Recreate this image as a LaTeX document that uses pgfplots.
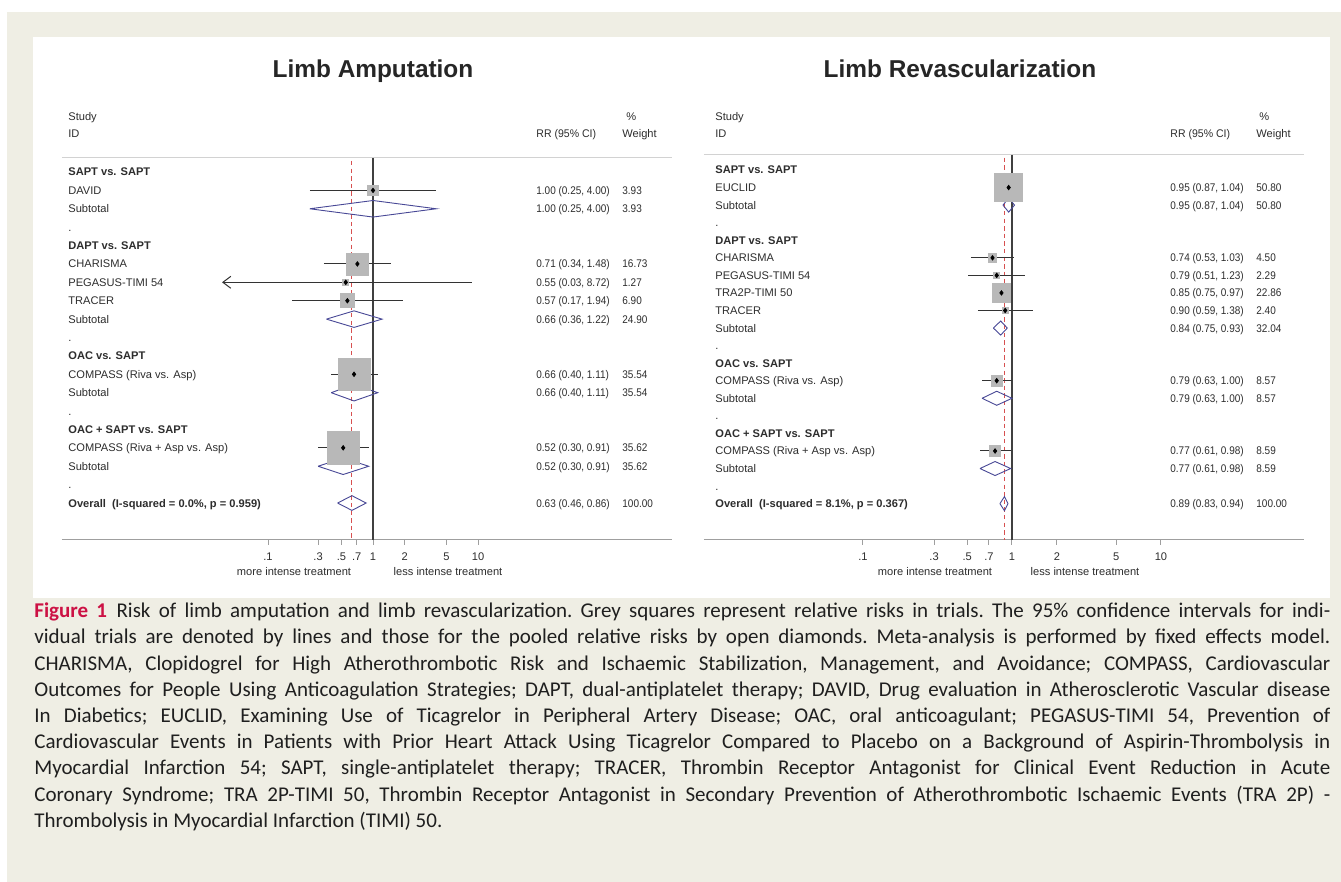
\documentclass[border=0pt]{standalone}
\usepackage{fontspec}
\setmainfont{Liberation Sans}
\newfontfamily\capfont{Carlito}
\usepackage{pgfplots}
\usepackage{pgfplotstable}
\pgfplotsset{compat=1.18}
\usetikzlibrary{arrows.meta}
\definecolor{beige}{RGB}{239,238,228}
\definecolor{sqgray}{RGB}{184,184,184}
\definecolor{dia}{RGB}{72,72,150}
\definecolor{refred}{RGB}{215,80,80}
\definecolor{crimson}{RGB}{204,17,68}
\definecolor{txt}{RGB}{45,45,45}
\newcommand\cf{\fontsize{5.55pt}{6.6pt}\selectfont}
\newcommand\tf{\fontsize{12.2pt}{14pt}\selectfont\bfseries}

\pgfplotstableread{
y rr lo hi w
-1 1.00 0.25 4.00 3.93
-5 0.71 0.34 1.48 16.73
-6 0.55 0.03 8.72 1.27
-7 0.57 0.17 1.94 6.90
-11 0.66 0.40 1.11 35.54
-15 0.52 0.30 0.91 35.62
}\leftstudies
\pgfplotstableread{
y rr lo hi w
-1 0.95 0.87 1.04 50.80
-5 0.74 0.53 1.03 4.50
-6 0.79 0.51 1.23 2.29
-7 0.85 0.75 0.97 22.86
-8 0.90 0.59 1.38 2.40
-12 0.79 0.63 1.00 8.57
-16 0.77 0.61 0.98 8.59
}\rightstudies

\tikzset{
  ci/.style={draw=black!80, line width=0.5pt},
  dmd/.style={draw=dia, line width=0.45pt},
  one/.style={draw=black!75, line width=0.55pt},
  pooled/.style={draw=refred, line width=0.45pt, dash pattern=on 2.2pt off 1.6pt},
}

\newcommand\Lrow[3]{\node[anchor=base west, inner sep=0pt, font=\cf#3, text=txt] at (68,{176+18.39*#1}) {#2};}
\newcommand\Lval[3]{\node[anchor=base west, inner sep=0pt, font=\cf, text=txt] at (536,{176+18.39*#1}) {\scalebox{0.9}[1]{#2}};
  \node[anchor=base west, inner sep=0pt, font=\cf, text=txt] at (622,{176+18.39*#1}) {\scalebox{0.9}[1]{#3}};}
\newcommand\Rrow[3]{\node[anchor=base west, inner sep=0pt, font=\cf#3, text=txt] at (715,{174+17.56*#1}) {#2};}
\newcommand\Rval[3]{\node[anchor=base west, inner sep=0pt, font=\cf, text=txt] at (1170,{174+17.56*#1}) {\scalebox{0.9}[1]{#2}};
  \node[anchor=base west, inner sep=0pt, font=\cf, text=txt] at (1256,{174+17.56*#1}) {\scalebox{0.9}[1]{#3}};}

\begin{document}
\begin{tikzpicture}
\begin{scope}[x=0.5pt, y=-0.5pt]
\fill[white] (0,0) rectangle (1341,882);
\fill[beige] (7,12) rectangle (1341,882);
\fill[white] (33,37) rectangle (1330,598);
% titles
\node[anchor=base, inner sep=0pt, font=\tf, text=black!85] at (373,78) {Limb Amputation};
\node[anchor=base, inner sep=0pt, font=\tf, text=black!85] at (960,78) {Limb Revascularization};
% left headers
\node[anchor=base west, inner sep=0pt, font=\cf, text=txt] at (68,121) {Study};
\node[anchor=base west, inner sep=0pt, font=\cf, text=txt] at (68,138) {ID};
\node[anchor=base west, inner sep=0pt, font=\cf, text=txt] at (626,121) {\%};
\node[anchor=base west, inner sep=0pt, font=\cf, text=txt] at (536,138) {\scalebox{0.95}[1]{RR (95\% CI)}};
\node[anchor=base west, inner sep=0pt, font=\cf, text=txt] at (622,138) {Weight};
% left rows
\Lrow{0}{SAPT vs. SAPT}{\bfseries}
\Lrow{1}{DAVID}{}\Lval{1}{1.00 (0.25, 4.00)}{3.93}
\Lrow{2}{Subtotal}{}\Lval{2}{1.00 (0.25, 4.00)}{3.93}
\Lrow{3}{.}{}
\Lrow{4}{DAPT vs. SAPT}{\bfseries}
\Lrow{5}{CHARISMA}{}\Lval{5}{0.71 (0.34, 1.48)}{16.73}
\Lrow{6}{PEGASUS-TIMI 54}{}\Lval{6}{0.55 (0.03, 8.72)}{1.27}
\Lrow{7}{TRACER}{}\Lval{7}{0.57 (0.17, 1.94)}{6.90}
\Lrow{8}{Subtotal}{}\Lval{8}{0.66 (0.36, 1.22)}{24.90}
\Lrow{9}{.}{}
\Lrow{10}{OAC vs. SAPT}{\bfseries}
\Lrow{11}{COMPASS (Riva vs. Asp)}{}\Lval{11}{0.66 (0.40, 1.11)}{35.54}
\Lrow{12}{Subtotal}{}\Lval{12}{0.66 (0.40, 1.11)}{35.54}
\Lrow{13}{.}{}
\Lrow{14}{OAC + SAPT vs. SAPT}{\bfseries}
\Lrow{15}{COMPASS (Riva + Asp vs. Asp)}{}\Lval{15}{0.52 (0.30, 0.91)}{35.62}
\Lrow{16}{Subtotal}{}\Lval{16}{0.52 (0.30, 0.91)}{35.62}
\Lrow{17}{.}{}
\Lrow{18}{Overall\ \ (I-squared = 0.0\%, p = 0.959)}{\bfseries}\Lval{18}{0.63 (0.46, 0.86)}{100.00}
\node[anchor=base, inner sep=0pt, font=\cf, text=txt] at (294,576) {more intense treatment};
\node[anchor=base, inner sep=0pt, font=\cf, text=txt] at (448,576) {less intense treatment};
% right headers
\node[anchor=base west, inner sep=0pt, font=\cf, text=txt] at (715,121) {Study};
\node[anchor=base west, inner sep=0pt, font=\cf, text=txt] at (715,138) {ID};
\node[anchor=base west, inner sep=0pt, font=\cf, text=txt] at (1259,121) {\%};
\node[anchor=base west, inner sep=0pt, font=\cf, text=txt] at (1170,138) {\scalebox{0.95}[1]{RR (95\% CI)}};
\node[anchor=base west, inner sep=0pt, font=\cf, text=txt] at (1256,138) {Weight};
% right rows
\Rrow{0}{SAPT vs. SAPT}{\bfseries}
\Rrow{1}{EUCLID}{}\Rval{1}{0.95 (0.87, 1.04)}{50.80}
\Rrow{2}{Subtotal}{}\Rval{2}{0.95 (0.87, 1.04)}{50.80}
\Rrow{3}{.}{}
\Rrow{4}{DAPT vs. SAPT}{\bfseries}
\Rrow{5}{CHARISMA}{}\Rval{5}{0.74 (0.53, 1.03)}{4.50}
\Rrow{6}{PEGASUS-TIMI 54}{}\Rval{6}{0.79 (0.51, 1.23)}{2.29}
\Rrow{7}{TRA2P-TIMI 50}{}\Rval{7}{0.85 (0.75, 0.97)}{22.86}
\Rrow{8}{TRACER}{}\Rval{8}{0.90 (0.59, 1.38)}{2.40}
\Rrow{9}{Subtotal}{}\Rval{9}{0.84 (0.75, 0.93)}{32.04}
\Rrow{10}{.}{}
\Rrow{11}{OAC vs. SAPT}{\bfseries}
\Rrow{12}{COMPASS (Riva vs. Asp)}{}\Rval{12}{0.79 (0.63, 1.00)}{8.57}
\Rrow{13}{Subtotal}{}\Rval{13}{0.79 (0.63, 1.00)}{8.57}
\Rrow{14}{.}{}
\Rrow{15}{OAC + SAPT vs. SAPT}{\bfseries}
\Rrow{16}{COMPASS (Riva + Asp vs. Asp)}{}\Rval{16}{0.77 (0.61, 0.98)}{8.59}
\Rrow{17}{Subtotal}{}\Rval{17}{0.77 (0.61, 0.98)}{8.59}
\Rrow{18}{.}{}
\Rrow{19}{Overall\ \ (I-squared = 8.1\%, p = 0.367)}{\bfseries}\Rval{19}{0.89 (0.83, 0.94)}{100.00}
\node[anchor=base, inner sep=0pt, font=\cf, text=txt] at (935,576) {more intense treatment};
\node[anchor=base, inner sep=0pt, font=\cf, text=txt] at (1085,576) {less intense treatment};
% caption
\node[anchor=north west, inner sep=0pt, text width=648pt, align=justify, text=black!88,
  font=\capfont\fontsize{10.5pt}{13.1pt}\selectfont\frenchspacing] at (34,599) {\strut\textcolor{crimson}{\bfseries Figure 1}\hspace{0.45em}Risk of limb amputation and limb revascularization. Grey squares represent relative risks in trials. The 95\% confidence intervals for indi-\linebreak vidual trials are denoted by lines and those for the pooled relative risks by open diamonds. Meta-analysis is performed by fixed effects model.\linebreak CHARISMA, Clopidogrel for High Atherothrombotic Risk and Ischaemic Stabilization, Management, and Avoidance; COMPASS, Cardiovascular\linebreak Outcomes for People Using Anticoagulation Strategies; DAPT, dual-antiplatelet therapy; DAVID, Drug evaluation in Atherosclerotic Vascular disease\linebreak In Diabetics; EUCLID, Examining Use of Ticagrelor in Peripheral Artery Disease; OAC, oral anticoagulant; PEGASUS-TIMI 54, Prevention of\linebreak Cardiovascular Events in Patients with Prior Heart Attack Using Ticagrelor Compared to Placebo on a Background of Aspirin-Thrombolysis in\linebreak Myocardial Infarction 54; SAPT, single-antiplatelet therapy; TRACER, Thrombin Receptor Antagonist for Clinical Event Reduction in Acute\linebreak Coronary Syndrome; TRA 2P-TIMI 50, Thrombin Receptor Antagonist in Secondary Prevention of Atherothrombotic Ischaemic Events (TRA 2P) -\linebreak Thrombolysis in Myocardial Infarction (TIMI) 50.};
\end{scope}

% ---------------- left panel ----------------
\begin{axis}[at={(31pt,-270pt)}, anchor=south west, scale only axis,
  width=305pt, height=191pt,
  xmode=log, xmin=0.0010916, xmax=704.0, ymin=-20.01, ymax=0.761,
  axis x line=bottom, axis y line=none,
  x axis line style={-, draw=gray!75, line width=0.5pt},
  xtick={0.1,0.3,0.5,0.7,1,2,5,10},
  xticklabels={.1,.3,.5,.7,1,2,5,10},
  xtick align=outside, major tick length=2.5pt, xminorticks=false,
  xtick style={draw=gray!75, line width=0.5pt},
  xticklabel style={font=\cf, text=txt, yshift=-0.2pt},
  /pgf/number format/assume math mode=true,
  ytick=\empty, clip=false]
\draw[gray!35, line width=0.5pt] (rel axis cs:0,1) -- (rel axis cs:1,1);
\addplot[one, mark=none] coordinates {(1,0.761) (1,-20.01)};
\addplot[pooled, mark=none] coordinates {(0.63,0.6) (0.63,-20.01)};
\addplot[scatter, only marks, mark=square*, scatter/use mapped color={draw=sqgray, fill=sqgray},
  visualization depends on={1.35*sqrt(\thisrow{w}) \as \msz},
  scatter/@pre marker code/.append style={/tikz/mark size=\msz}]
  table[x=rr, y=y] {\leftstudies};
\addplot[ci, mark=none] coordinates {(0.25,-1) (4.00,-1)};
\addplot[ci, mark=none] coordinates {(0.34,-5) (1.48,-5)};
\addplot[ci, mark=none, -{Straight Barb[length=4pt, width=6pt]}] coordinates {(8.72,-6) (0.0365,-6)};
\addplot[ci, mark=none] coordinates {(0.17,-7) (1.94,-7)};
\addplot[ci, mark=none] coordinates {(0.40,-11) (1.11,-11)};
\addplot[ci, mark=none] coordinates {(0.30,-15) (0.91,-15)};
\addplot[only marks, mark=diamond*, mark size=1.1pt, black] table[x=rr, y=y] {\leftstudies};
\addplot[dmd, mark=none] coordinates {(0.25,-2) (1.00,-1.55) (4.00,-2) (1.00,-2.45) (0.25,-2)};
\addplot[dmd, mark=none] coordinates {(0.36,-8) (0.66,-7.55) (1.22,-8) (0.66,-8.45) (0.36,-8)};
\addplot[dmd, mark=none] coordinates {(0.40,-12) (0.66,-11.55) (1.11,-12) (0.66,-12.45) (0.40,-12)};
\addplot[dmd, mark=none] coordinates {(0.30,-16) (0.52,-15.55) (0.91,-16) (0.52,-16.45) (0.30,-16)};
\addplot[dmd, mark=none] coordinates {(0.46,-18) (0.63,-17.6) (0.86,-18) (0.63,-18.4) (0.46,-18)};
\end{axis}

% ---------------- right panel ----------------
\begin{axis}[at={(352pt,-270pt)}, anchor=south west, scale only axis,
  width=300pt, height=192.5pt,
  xmode=log, xmin=0.008571, xmax=91.13, ymin=-21.07, ymax=0.854,
  axis x line=bottom, axis y line=none,
  x axis line style={-, draw=gray!75, line width=0.5pt},
  xtick={0.1,0.3,0.5,0.7,1,2,5,10},
  xticklabels={.1,.3,.5,.7,1,2,5,10},
  xtick align=outside, major tick length=2.5pt, xminorticks=false,
  xtick style={draw=gray!75, line width=0.5pt},
  xticklabel style={font=\cf, text=txt, yshift=-0.2pt},
  /pgf/number format/assume math mode=true,
  ytick=\empty, clip=false]
\draw[gray!35, line width=0.5pt] (rel axis cs:0,1) -- (rel axis cs:1,1);
\addplot[one, mark=none] coordinates {(1,0.854) (1,-21.07)};
\addplot[pooled, mark=none] coordinates {(0.89,0.7) (0.89,-21.07)};
\addplot[scatter, only marks, mark=square*, scatter/use mapped color={draw=sqgray, fill=sqgray},
  visualization depends on={0.98*sqrt(\thisrow{w}) \as \msz},
  scatter/@pre marker code/.append style={/tikz/mark size=\msz}]
  table[x=rr, y=y] {\rightstudies};
\addplot[ci, mark=none] coordinates {(0.87,-1) (1.04,-1)};
\addplot[ci, mark=none] coordinates {(0.53,-5) (1.03,-5)};
\addplot[ci, mark=none] coordinates {(0.51,-6) (1.23,-6)};
\addplot[ci, mark=none] coordinates {(0.75,-7) (0.97,-7)};
\addplot[ci, mark=none] coordinates {(0.59,-8) (1.38,-8)};
\addplot[ci, mark=none] coordinates {(0.63,-12) (1.00,-12)};
\addplot[ci, mark=none] coordinates {(0.61,-16) (0.98,-16)};
\addplot[only marks, mark=diamond*, mark size=1.1pt, black] table[x=rr, y=y] {\rightstudies};
\addplot[dmd, mark=none] coordinates {(0.87,-2) (0.95,-1.6) (1.04,-2) (0.95,-2.4) (0.87,-2)};
\addplot[dmd, mark=none] coordinates {(0.75,-9) (0.84,-8.6) (0.93,-9) (0.84,-9.4) (0.75,-9)};
\addplot[dmd, mark=none] coordinates {(0.63,-13) (0.79,-12.6) (1.00,-13) (0.79,-13.4) (0.63,-13)};
\addplot[dmd, mark=none] coordinates {(0.61,-17) (0.77,-16.6) (0.98,-17) (0.77,-17.4) (0.61,-17)};
\addplot[dmd, mark=none] coordinates {(0.83,-19) (0.89,-18.6) (0.94,-19) (0.89,-19.4) (0.83,-19)};
\end{axis}
\end{tikzpicture}
\end{document}
